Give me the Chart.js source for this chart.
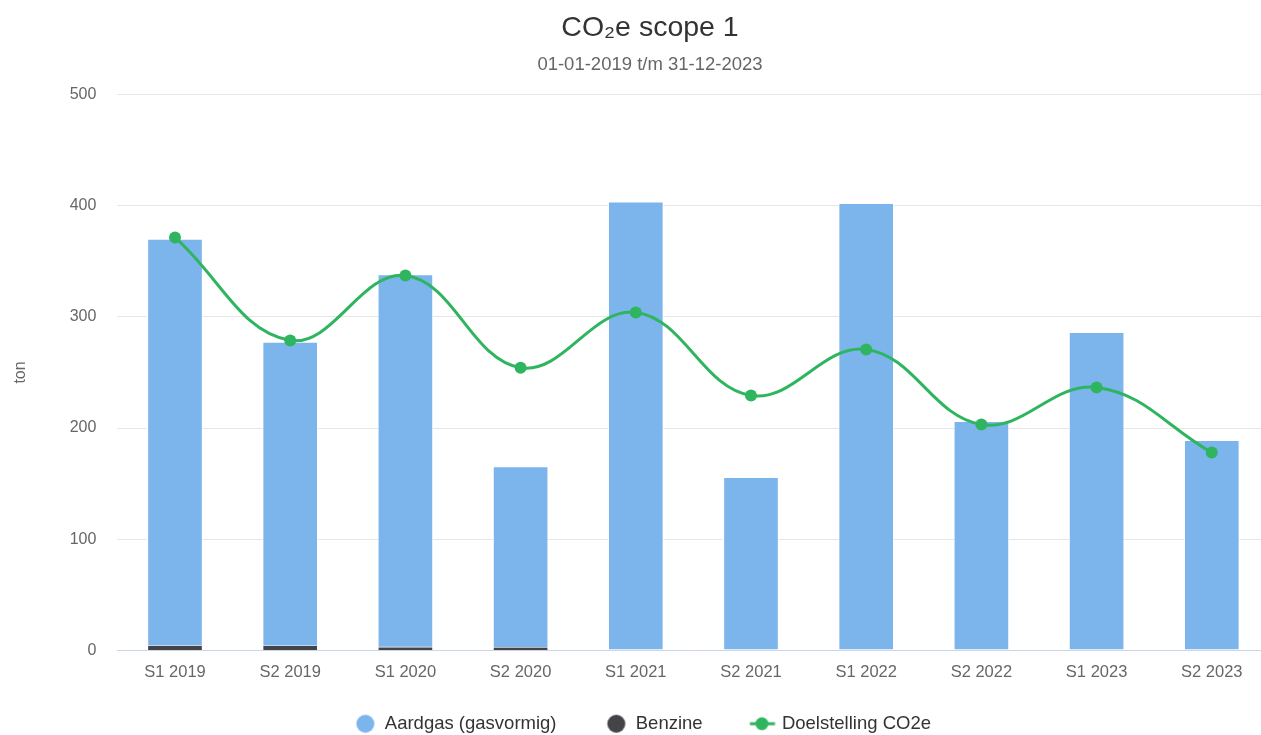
<!DOCTYPE html>
<html>
<head>
<meta charset="utf-8">
<title>CO2e scope 1</title>
<script src="https://cdn.jsdelivr.net/npm/chart.js@4.4.1/dist/chart.umd.min.js"></script>
<style>
  html,body{margin:0;padding:0;background:#fff;overflow:hidden;}
  #wrap{width:1300px;height:743px;}
</style>
</head>
<body>
<div id="wrap"><canvas id="chart" width="1300" height="743"></canvas></div>
<script>
// data
const categories = ['S1 2019','S2 2019','S1 2020','S2 2020','S1 2021','S2 2021','S1 2022','S2 2022','S1 2023','S2 2023'];
const aardgas = [365.8, 273.2, 335.3, 162.7, 403.5, 155.8, 402, 206, 286, 189];
const benzine = [4.2, 4.0, 2.8, 2.6, 0, 0, 0, 0, 0, 0];
const doelstelling = [371.4, 278.8, 337.2, 254.3, 304, 229.3, 270.7, 203.2, 236.5, 178];
const yTicks = [0, 100, 200, 300, 400, 500];

const FONT = '"Liberation Sans", Arial, Helvetica, sans-serif';
const BLUE = '#7cb5ec', DARK = '#434348', GREEN = '#2fb55f';

// legend markers (Highcharts style); box is 38 wide, text starts 47.25px after box start
function dot(color){
  const c = document.createElement('canvas'); c.width = 38; c.height = 20;
  const x = c.getContext('2d');
  x.fillStyle = color; x.beginPath(); x.arc(27.75, 10, 9, 0, Math.PI*2); x.fill();
  return c;
}
function lineDot(color){
  const c = document.createElement('canvas'); c.width = 44; c.height = 20;
  const x = c.getContext('2d');
  x.strokeStyle = color; x.lineWidth = 3;
  x.beginPath(); x.moveTo(18.25, 10); x.lineTo(43.25, 10); x.stroke();
  x.fillStyle = color; x.beginPath(); x.arc(30.25, 10, 6.5, 0, Math.PI*2); x.fill();
  return c;
}
// by dataset index: 0 line, 1 benzine, 2 aardgas
const markers = [lineDot(GREEN), dot(DARK), dot(BLUE)];
const legendRank = [2, 1, 0];

new Chart(document.getElementById('chart'), {
  data: {
    labels: categories,
    datasets: [
      {type:'line', label:'Doelstelling CO2e', data:doelstelling, borderColor:GREEN, backgroundColor:GREEN,
       borderWidth:3, tension:0.4, pointRadius:6, pointHoverRadius:6, pointBorderWidth:0, order:0, stack:'line'},
      {type:'bar', label:'Benzine', data:benzine, backgroundColor:DARK, borderColor:'#ffffff',
       borderWidth:{left:1, right:1, top:0, bottom:0}, borderSkipped:false, barThickness:55, order:1, stack:'s'},
      {type:'bar', label:'Aardgas (gasvormig)', data:aardgas, backgroundColor:BLUE, borderColor:'#ffffff',
       borderWidth:1, borderSkipped:false, barThickness:55, order:1, stack:'s'}
    ]
  },
  options: {
    responsive:false,
    animation:false,
    layout:{padding:{left:30.6, right:30.6, top:0, bottom:0}},
    font:{family:FONT},
    plugins:{
      title:{display:true, text:'CO\u2082e scope 1', color:'#333333', font:{family:FONT, size:28.5, weight:'normal'}, padding:{top:11, bottom:0}},
      subtitle:{display:true, text:'01-01-2019 t/m 31-12-2023', color:'#666666', font:{family:FONT, size:18.5}, padding:{top:9, bottom:18}},
      tooltip:{enabled:false},
      legend:{
        position:'bottom',
        labels:{
          usePointStyle:true, pointStyleWidth:38, boxHeight:16, padding:32,
          color:'#333333', font:{family:FONT, size:18.5},
          sort:(a,b)=>legendRank[a.datasetIndex]-legendRank[b.datasetIndex],
          generateLabels(chart){
            const items = Chart.defaults.plugins.legend.labels.generateLabels(chart);
            items.forEach(it=>{
              it.pointStyle = markers[it.datasetIndex];
              // the reference font sets this label wider; pad its advance so the row centres the same
              if (it.datasetIndex === 0) it.text = it.text + '\u2003\u2002\u2009';
            });
            return items;
          }
        }
      }
    },
    scales:{
      x:{
        stacked:true,
        grid:{display:false, drawTicks:false},
        border:{display:true, color:'#ccd6eb', width:1},
        ticks:{color:'#666666', font:{family:FONT, size:16.5}, padding:12, maxRotation:0},
        afterFit(s){ s.height = 32; }
      },
      y:{
        stacked:true,
        min:0, max:500,
        afterBuildTicks(s){ s.ticks = yTicks.map(v=>({value:v})); },
        grid:{color:'#e6e6e6', lineWidth:1, drawTicks:false},
        border:{display:false},
        ticks:{color:'#666666', font:{family:FONT, size:16}, padding:21},
        title:{display:true, text:'ton', color:'#666666', font:{family:FONT, size:16}, padding:{top:-20, bottom:0}},
        afterFit(s){ s.width = 86.8; }
      }
    }
  }
});
</script>
</body>
</html>
